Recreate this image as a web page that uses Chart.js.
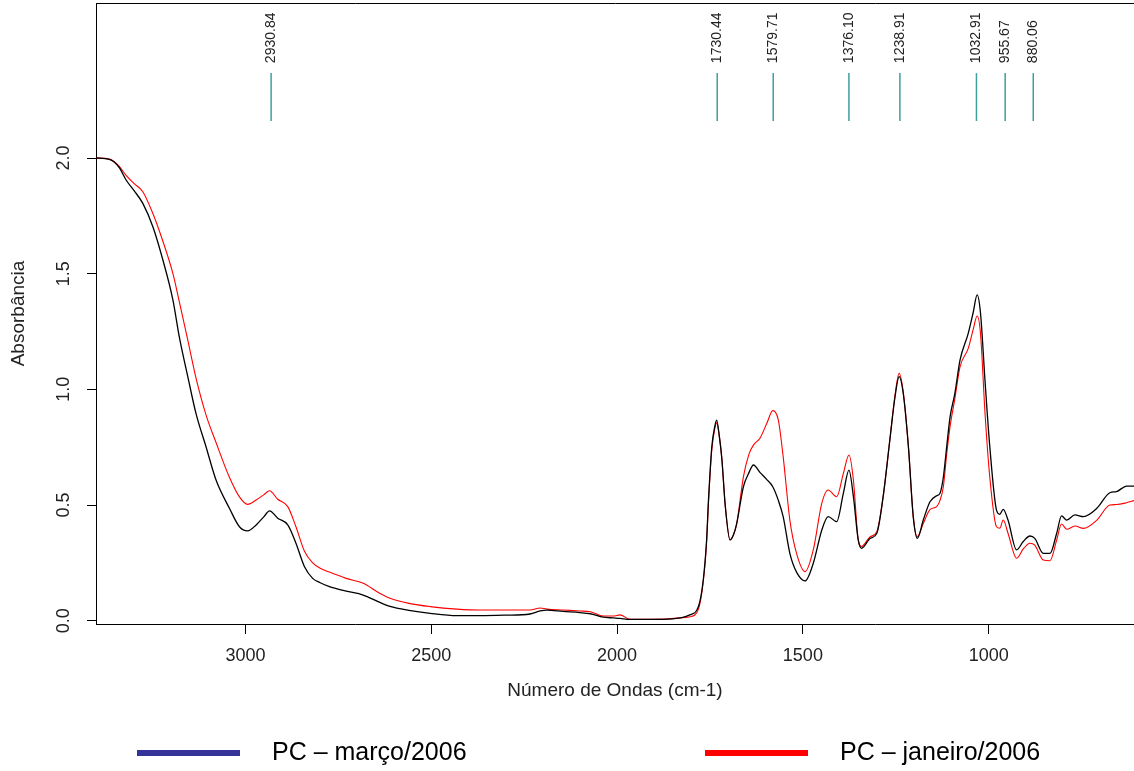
<!DOCTYPE html>
<html><head><meta charset="utf-8">
<script src="https://cdn.jsdelivr.net/npm/chart.js@4/dist/chart.umd.min.js"></script>
<style>html,body{margin:0;padding:0;background:#fff;overflow:hidden}</style>
</head><body>
<canvas id="c" width="1134" height="771" style="display:block;width:1134px;height:771px"></canvas>
<script>
// ---- data ----
const wavenumbers = [3402,3366,3340,3321,3300,3276,3249,3222,3195,3178,3155,3133,3106,3079,3043,3016,2994,2971,2950,2935,2913,2886,2864,2841,2819,2800,2774,2729,2683,2640,2611,2560,2503,2431,2369,2300,2234,2207,2189,2145,2100,2072,2037,2010,1992,1965,1875,1830,1804,1781,1768,1759,1754,1745,1737,1732,1725,1718,1709,1696,1687,1678,1660,1645,1633,1615,1597,1581,1566,1553,1535,1517,1494,1472,1449,1432,1409,1391,1376,1364,1351,1342,1319,1301,1284,1266,1252,1241,1230,1216,1203,1192,1176,1158,1140,1131,1122,1113,1104,1091,1077,1055,1042,1031,1022,1010,997,979,970,961,948,925,907,889,876,853,835,817,804,790,768,745,709,674,656,629,609];
const marco2006 = [2.00,1.994,1.96,1.905,1.86,1.804,1.703,1.559,1.386,1.228,1.055,0.896,0.752,0.608,0.486,0.406,0.388,0.414,0.45,0.475,0.443,0.414,0.335,0.233,0.183,0.165,0.147,0.128,0.111,0.08,0.062,0.045,0.032,0.022,0.022,0.024,0.029,0.042,0.046,0.04,0.035,0.03,0.015,0.012,0.01,0.006,0.006,0.012,0.025,0.061,0.176,0.349,0.52,0.752,0.84,0.867,0.80,0.70,0.50,0.349,0.37,0.42,0.579,0.64,0.673,0.64,0.61,0.579,0.52,0.45,0.291,0.21,0.172,0.248,0.392,0.450,0.428,0.551,0.651,0.536,0.349,0.313,0.356,0.378,0.536,0.781,0.968,1.055,0.983,0.752,0.450,0.356,0.435,0.514,0.54,0.551,0.62,0.752,0.88,0.983,1.127,1.242,1.33,1.408,1.329,1.040,0.752,0.478,0.46,0.481,0.435,0.306,0.342,0.366,0.356,0.291,0.291,0.378,0.453,0.435,0.457,0.450,0.486,0.553,0.558,0.582,0.582];
const janeiro2006 = [2.00,1.995,1.965,1.925,1.89,1.854,1.76,1.64,1.50,1.38,1.213,1.05,0.89,0.77,0.62,0.535,0.503,0.522,0.545,0.562,0.525,0.493,0.406,0.30,0.25,0.228,0.21,0.183,0.162,0.12,0.097,0.075,0.061,0.05,0.046,0.046,0.046,0.055,0.05,0.046,0.042,0.039,0.02,0.02,0.025,0.006,0.007,0.012,0.017,0.05,0.17,0.34,0.51,0.74,0.83,0.855,0.80,0.70,0.50,0.349,0.37,0.42,0.622,0.72,0.759,0.79,0.853,0.908,0.867,0.709,0.435,0.291,0.212,0.306,0.508,0.565,0.536,0.637,0.716,0.608,0.349,0.321,0.363,0.385,0.536,0.781,0.975,1.069,0.99,0.752,0.45,0.363,0.42,0.48,0.493,0.52,0.579,0.72,0.838,0.96,1.098,1.177,1.257,1.317,1.24,0.90,0.62,0.406,0.40,0.435,0.378,0.270,0.31,0.335,0.327,0.262,0.259,0.349,0.418,0.395,0.409,0.399,0.435,0.500,0.502,0.510,0.519];
const peakPositions = [2930.84,1730.44,1579.71,1376.10,1238.91,1032.91,955.67,880.06];
const peakLabels = ['2930.84','1730.44','1579.71','1376.10','1238.91','1032.91','955.67','880.06'];
const xTicks = [3000,2500,2000,1500,1000];
const yTicks = [0,0.5,1.0,1.5,2.0];
const legendLabels = ['PC – março/2006','PC – janeiro/2006'];
const xTitle = 'Número de Ondas (cm-1)';
const yTitle = 'Absorbância';

// ---- presentation ----
const FONT = "'Liberation Sans', Arial, sans-serif";
Chart.defaults.font.family = FONT;
const markerBottom = 2.16, markerTop = 2.367, markerLabelBase = 2.41;
const legendStyle = {
  colors: ['#333399', '#ff0000'],
  lineX: [137, 705], lineLen: 103, textGap: 32, y: 753, lineWidth: 6, fontSize: 25
};

const toPoints = ys => wavenumbers.map((x, i) => ({x, y: ys[i]}));

const peakLabelPlugin = {
  id: 'peakLabelPlugin',
  afterDatasetsDraw(chart) {
    const {ctx, scales: {x, y}} = chart;
    ctx.save();
    ctx.fillStyle = '#222';
    ctx.font = '14px ' + FONT;
    ctx.textAlign = 'left';
    ctx.textBaseline = 'middle';
    peakPositions.forEach((p, i) => {
      ctx.save();
      ctx.translate(x.getPixelForValue(p), y.getPixelForValue(markerLabelBase));
      ctx.rotate(-Math.PI / 2);
      ctx.fillText(peakLabels[i], 0, 0);
      ctx.restore();
    });
    ctx.restore();
  }
};

const bottomLegendPlugin = {
  id: 'bottomLegendPlugin',
  afterDraw(chart) {
    const ctx = chart.ctx, L = legendStyle;
    ctx.save();
    ctx.font = L.fontSize + 'px ' + FONT;
    ctx.textBaseline = 'middle';
    ctx.textAlign = 'left';
    legendLabels.forEach((t, i) => {
      ctx.strokeStyle = L.colors[i];
      ctx.lineWidth = L.lineWidth;
      ctx.beginPath();
      ctx.moveTo(L.lineX[i], L.y);
      ctx.lineTo(L.lineX[i] + L.lineLen, L.y);
      ctx.stroke();
      ctx.fillStyle = '#000';
      ctx.fillText(t, L.lineX[i] + L.lineLen + L.textGap, L.y);
    });
    ctx.restore();
  }
};

const datasets = [
  {label: legendLabels[0], data: toPoints(marco2006), borderColor: '#000000', borderWidth: 1.3,
   pointRadius: 0, cubicInterpolationMode: 'monotone', order: 0},
  {label: legendLabels[1], data: toPoints(janeiro2006), borderColor: '#ff0000', borderWidth: 1.1,
   pointRadius: 0, cubicInterpolationMode: 'monotone', order: 1}
].concat(peakPositions.map(p => ({
  label: 'peak ' + p, data: [{x: p, y: markerBottom}, {x: p, y: markerTop}],
  borderColor: '#3f9e9e', borderWidth: 1.5, pointRadius: 0, order: 2
})));

new Chart(document.getElementById('c'), {
  type: 'line',
  data: {datasets},
  options: {
    responsive: false,
    animation: false,
    devicePixelRatio: 1,
    layout: {padding: {top: 3, right: 0, bottom: 0, left: 0}},
    plugins: {legend: {display: false}, tooltip: {enabled: false}},
    scales: {
      x: {
        type: 'linear', reverse: true, min: 609, max: 3402, position: 'bottom',
        afterBuildTicks: s => { s.ticks = xTicks.map(v => ({value: v})); },
        afterFit: s => { s.height = 147; s.paddingLeft = 0; s.paddingRight = 0; },
        ticks: {font: {size: 18}, color: '#222', padding: 11, maxRotation: 0, autoSkip: false,
                callback: v => String(v)},
        grid: {drawOnChartArea: false, drawTicks: true, tickLength: 10, color: '#000'},
        border: {display: true, color: '#000', width: 1},
        title: {display: true, text: xTitle, color: '#222', font: {size: 19}, padding: {top: 0, bottom: 69}}
      },
      xTop: {
        type: 'linear', position: 'top', display: true,
        ticks: {display: false}, grid: {display: false, drawTicks: false},
        border: {display: true, color: '#000', width: 1},
        afterFit: s => { s.height = 0; s.paddingLeft = 0; s.paddingRight = 0; }
      },
      y: {
        type: 'linear', min: -0.0143, max: 2.67,
        afterBuildTicks: s => { s.ticks = yTicks.map(v => ({value: v})); },
        afterFit: s => { s.width = 96; s.paddingTop = 0; s.paddingBottom = 0; },
        ticks: {font: {size: 18}, color: '#222', minRotation: 90, maxRotation: 90, crossAlign: 'center',
                padding: 10, callback: v => Number(v).toFixed(1)},
        grid: {drawOnChartArea: false, drawTicks: true, tickLength: 9, color: '#000'},
        border: {display: true, color: '#000', width: 1},
        title: {display: true, text: yTitle, color: '#222', font: {size: 19}, padding: {top: 7, bottom: 0}}
      }
    }
  },
  plugins: [peakLabelPlugin, bottomLegendPlugin]
});
</script>
</body></html>
